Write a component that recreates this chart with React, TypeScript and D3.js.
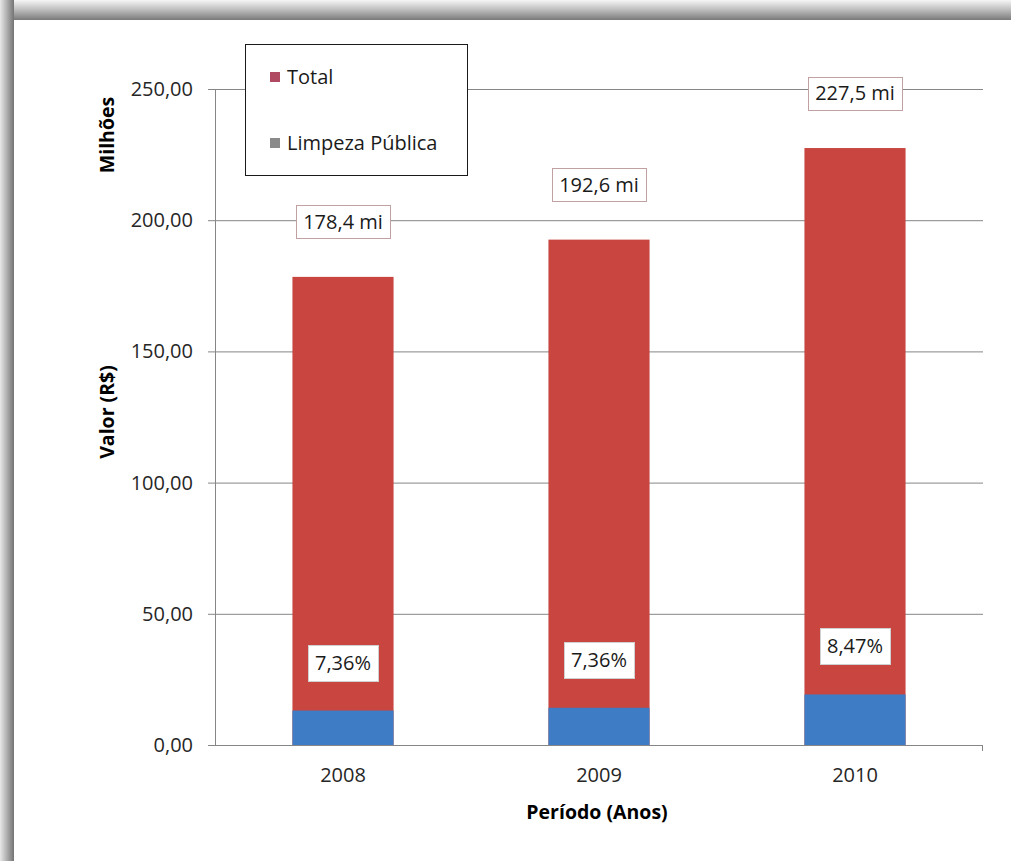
import React, { useEffect, useRef } from "react";
import * as d3 from "d3";

const years = ["2008", "2009", "2010"];
const totalValues = [178.4, 192.6, 227.5];
const limpezaValues = [13.13, 14.18, 19.27];
const totalLabels = ["178,4 mi", "192,6 mi", "227,5 mi"];
const pctLabels = ["7,36%", "7,36%", "8,47%"];
const yTicks = [0, 50, 100, 150, 200, 250];
const legendItems = ["Total", "Limpeza Pública"];

const W = 1011;
const H = 861;
const FONT = "'Open Sans', 'Noto Sans', sans-serif";
const FS = 20;
const FT = 19.5;

export default function App() {
  const ref = useRef<SVGSVGElement>(null);

  useEffect(() => {
    const svg = d3.select(ref.current);
    svg.selectAll("*").remove();

    const defs = svg.append("defs");
    const gTop = defs.append("linearGradient").attr("id", "gTop").attr("x1", 0).attr("y1", 0).attr("x2", 0).attr("y2", 1);
    gTop.append("stop").attr("offset", "0%").attr("stop-color", "#f6f6f6");
    gTop.append("stop").attr("offset", "50%").attr("stop-color", "#bcbcbc");
    gTop.append("stop").attr("offset", "100%").attr("stop-color", "#7a7a7a");
    const gLeft = defs.append("linearGradient").attr("id", "gLeft").attr("x1", 0).attr("y1", 0).attr("x2", 1).attr("y2", 0);
    gLeft.append("stop").attr("offset", "0%").attr("stop-color", "#e8e8e8");
    gLeft.append("stop").attr("offset", "55%").attr("stop-color", "#a8a8a8");
    gLeft.append("stop").attr("offset", "100%").attr("stop-color", "#747474");

    svg.append("rect").attr("width", W).attr("height", H).attr("fill", "#ffffff");
    svg.append("rect").attr("x", 0).attr("y", 0).attr("width", W).attr("height", 20).attr("fill", "url(#gTop)");
    svg.append("rect").attr("x", 0).attr("y", 0).attr("width", 14).attr("height", H).attr("fill", "url(#gLeft)");
    svg.append("rect").attr("x", 14).attr("y", 20).attr("width", W - 14).attr("height", H - 20).attr("fill", "#ffffff");

    const x = d3.scaleBand<string>().domain(years).range([215, 983]).paddingInner(0.605).paddingOuter(0.3025);
    const y = d3.scaleLinear().domain([0, 250]).range([745, 89]);

    // gridlines
    svg.append("g").selectAll("line").data(yTicks).join("line")
      .attr("x1", 208).attr("x2", 983)
      .attr("y1", (d) => y(d) + 0.5).attr("y2", (d) => y(d) + 0.5)
      .attr("stroke", "#868686").attr("stroke-width", 1);
    // y axis line
    svg.append("line").attr("x1", 215.5).attr("x2", 215.5).attr("y1", y(250)).attr("y2", y(0) + 1)
      .attr("stroke", "#868686");
    svg.append("line").attr("x1", 982.5).attr("x2", 982.5).attr("y1", y(0)).attr("y2", y(0) + 6).attr("stroke", "#868686");

    // y tick labels
    svg.append("g").selectAll("text").data(yTicks).join("text")
      .attr("x", 193).attr("y", (d) => y(d))
      .attr("dy", "0.35em").attr("text-anchor", "end")
      .attr("font-family", FONT).attr("font-size", FS).attr("fill", "#262626")
      .text((d) => d3.format(".2f")(d).replace(".", ","));

    // bars
    const bx = (i: number) => x(years[i])!;
    svg.append("g").selectAll("rect").data(totalValues).join("rect")
      .attr("x", (_d, i) => bx(i)).attr("width", x.bandwidth())
      .attr("y", (d) => y(d)).attr("height", (d) => y(0) - y(d))
      .attr("fill", "#c8463f");
    svg.append("g").selectAll("rect").data(limpezaValues).join("rect")
      .attr("x", (_d, i) => bx(i)).attr("width", x.bandwidth())
      .attr("y", (d) => y(d)).attr("height", (d) => y(0) - y(d))
      .attr("fill", "#3f7cc6");

    // x tick labels
    svg.append("g").selectAll("text").data(years).join("text")
      .attr("x", (d) => x(d)! + x.bandwidth() / 2).attr("y", 775)
      .attr("dy", "0.35em").attr("text-anchor", "middle")
      .attr("font-family", FONT).attr("font-size", FS).attr("fill", "#262626")
      .text((d) => d);

    // labels with boxes
    const boxLabel = (cx: number, cy: number, text: string, stroke: string, padX: number, h: number) => {
      const g = svg.append("g");
      const r = g.append("rect").attr("fill", "#ffffff").attr("stroke", stroke).attr("stroke-width", 1);
      const t = g.append("text").attr("x", cx).attr("y", cy).attr("dy", "0.35em")
        .attr("text-anchor", "middle").attr("font-family", FONT).attr("font-size", FS).attr("fill", "#1a1a1a")
        .text(text);
      const bb = (t.node() as SVGTextElement).getBBox();
      const w = bb.width + padX * 2;
      r.attr("x", Math.round(cx - w / 2) + 0.5).attr("y", Math.round(cy - h / 2) + 0.5)
        .attr("width", Math.round(w)).attr("height", h);
    };
    totalValues.forEach((v, i) => {
      boxLabel(bx(i) + x.bandwidth() / 2, y(v) - 55, totalLabels[i], "#c0a0a0", 7, 33);
    });
    limpezaValues.forEach((v, i) => {
      boxLabel(bx(i) + x.bandwidth() / 2, y(v) - 48, pctLabels[i], "#d0d0d0", 7, 36);
    });

    // legend
    const lg = svg.append("g");
    lg.append("rect").attr("x", 245.5).attr("y", 44.5).attr("width", 222).attr("height", 131)
      .attr("fill", "#ffffff").attr("stroke", "#1a1a1a").attr("stroke-width", 1);
    const legendColors = ["#b04a62", "#8a8a8a"];
    legendItems.forEach((name, i) => {
      const cy = 77 + i * 66;
      lg.append("rect").attr("x", 270).attr("y", cy - 5).attr("width", 10).attr("height", 10).attr("fill", legendColors[i]);
      lg.append("text").attr("x", 287).attr("y", cy).attr("dy", "0.35em")
        .attr("font-family", FONT).attr("font-size", FS).attr("fill", "#1a1a1a").text(name);
    });

    // axis titles
    svg.append("text").attr("transform", "translate(107,135) rotate(-90)")
      .attr("text-anchor", "middle").attr("dy", "0.35em")
      .attr("font-family", FONT).attr("font-size", FT).attr("font-weight", "bold").attr("fill", "#000")
      .text("Milhões");
    svg.append("text").attr("transform", "translate(107,412) rotate(-90)")
      .attr("text-anchor", "middle").attr("dy", "0.35em")
      .attr("font-family", FONT).attr("font-size", FT).attr("font-weight", "bold").attr("fill", "#000")
      .text("Valor (R$)");
    svg.append("text").attr("x", 597).attr("y", 812)
      .attr("text-anchor", "middle").attr("dy", "0.35em")
      .attr("font-family", FONT).attr("font-size", FT).attr("font-weight", "bold").attr("fill", "#000")
      .text("Período (Anos)");
  }, []);

  return (
    <svg ref={ref} width={W} height={H} style={{ position: "absolute", left: 0, top: 0, display: "block" }} />
  );
}
